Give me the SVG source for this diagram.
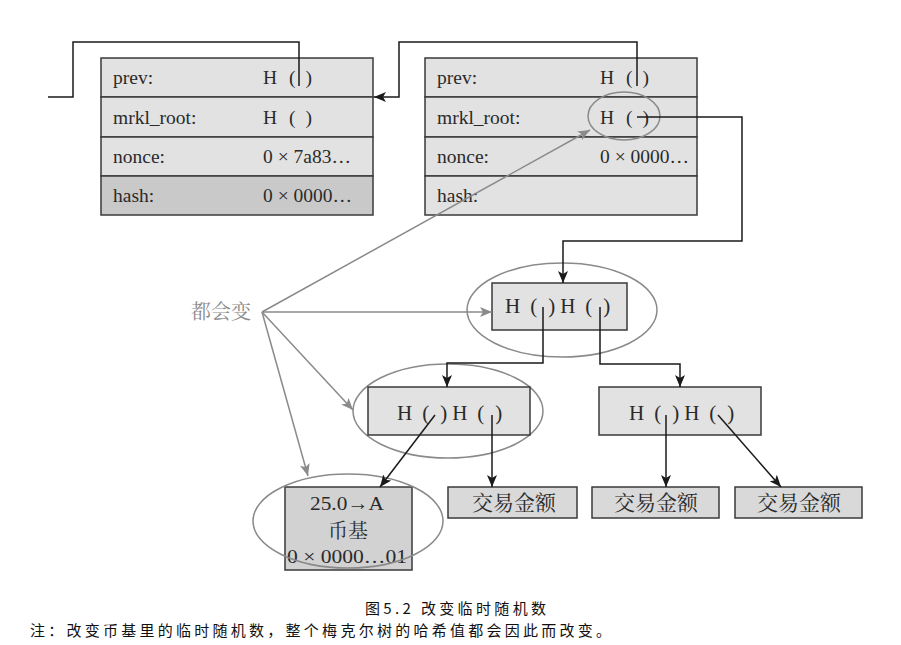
<svg xmlns="http://www.w3.org/2000/svg" width="901" height="645" viewBox="0 0 901 645">
<defs>
<marker id="ab" viewBox="0 0 12 10" refX="12" refY="5" markerWidth="12" markerHeight="10" markerUnits="userSpaceOnUse" orient="auto"><path d="M0,0 L12,5 L0,10 L3,5 z" fill="#1a1a1a"/></marker>
<marker id="ag" viewBox="0 0 12 10" refX="12" refY="5" markerWidth="12" markerHeight="10" markerUnits="userSpaceOnUse" orient="auto"><path d="M0,0 L12,5 L0,10 L3,5 z" fill="#8a8a8a"/></marker>
<style>
.row{fill:#e2e2e2;stroke:#3a3a3a;stroke-width:1.5}
.dark{fill:#c9c9c9}
.box{fill:#e2e2e2;stroke:#3a3a3a;stroke-width:1.5}
.leaf{fill:#d9d9d9;stroke:#3a3a3a;stroke-width:1.5}
.ell{fill:none;stroke:#8a8a8a;stroke-width:1.5}
.t{font-family:"Liberation Serif","Noto Sans CJK SC",serif;font-size:19.5px;fill:#2a2a2a}
.h{font-family:"Liberation Serif",serif;font-size:21px;fill:#2a2a2a}
.cj{font-family:"Noto Serif CJK SC","Noto Sans CJK SC",serif;font-size:20px;fill:#2a2a2a}
.ln{fill:none;stroke:#1a1a1a;stroke-width:1.5}
.lg{fill:none;stroke:#8a8a8a;stroke-width:1.5}
.cap{font-family:"Noto Sans CJK SC",sans-serif;font-size:15px;fill:#111}
</style>
</defs>
<rect width="901" height="645" fill="#ffffff"/>

<g id="block-left">
<rect class="row" x="101" y="58" width="272" height="39"/>
<rect class="row" x="101" y="97" width="272" height="40"/>
<rect class="row" x="101" y="137" width="272" height="39"/>
<rect class="row dark" x="101" y="176" width="272" height="39"/>
<text class="t" x="113" y="84">prev:</text>
<text class="t" x="263" y="84">H<tspan dx="12">(</tspan><tspan dx="10">)</tspan></text>
<text class="t" x="113" y="124">mrkl_root:</text>
<text class="t" x="263" y="124">H<tspan dx="12">(</tspan><tspan dx="10">)</tspan></text>
<text class="t" x="113" y="163">nonce:</text>
<text class="t" x="263" y="163">0 × 7a83…</text>
<text class="t" x="113" y="202">hash:</text>
<text class="t" x="263" y="202">0 × 0000…</text>
</g>

<g id="block-right">
<rect class="row" x="425" y="58" width="272" height="39"/>
<rect class="row" x="425" y="97" width="272" height="40"/>
<rect class="row" x="425" y="137" width="272" height="39"/>
<rect class="row" x="425" y="176" width="272" height="39"/>
<text class="t" x="437" y="84">prev:</text>
<text class="t" x="600" y="84">H<tspan dx="12">(</tspan><tspan dx="10">)</tspan></text>
<text class="t" x="437" y="124">mrkl_root:</text>
<text class="t" x="600" y="124">H<tspan dx="12">(</tspan><tspan dx="10">)</tspan></text>
<text class="t" x="437" y="163">nonce:</text>
<text class="t" x="600" y="163">0 × 0000…</text>
<text class="t" x="437" y="202">hash:</text>
<ellipse class="ell" cx="624" cy="116" rx="36" ry="24"/>
</g>

<g id="node-root">
<ellipse class="ell" cx="562" cy="310" rx="95" ry="47"/>
<rect class="box" x="492" y="283" width="135" height="47"/>
<text class="h" x="505" y="313">H<tspan dx="10">(</tspan><tspan dx="11">)</tspan><tspan dx="5">H</tspan><tspan dx="10">(</tspan><tspan dx="11">)</tspan></text>
</g>

<g id="node-mid-left">
<ellipse class="ell" cx="448" cy="411" rx="95" ry="47"/>
<rect class="box" x="368" y="387" width="162" height="48"/>
<text class="h" x="397" y="420">H<tspan dx="10">(</tspan><tspan dx="11">)</tspan><tspan dx="5">H</tspan><tspan dx="10">(</tspan><tspan dx="11">)</tspan></text>
</g>

<g id="node-mid-right">
<rect class="box" x="599" y="387" width="162" height="48"/>
<text class="h" x="629" y="420">H<tspan dx="10">(</tspan><tspan dx="11">)</tspan><tspan dx="5">H</tspan><tspan dx="10">(</tspan><tspan dx="11">)</tspan></text>
</g>

<g id="node-coinbase">
<rect class="leaf" x="285" y="487" width="127" height="83" style="fill:#d2d2d2"/>
<text class="t" x="310" y="510" textLength="74" lengthAdjust="spacingAndGlyphs">25.0→A</text>
<text class="cj" x="348" y="538" text-anchor="middle">币基</text>
<text class="t" x="287" y="563" textLength="120" lengthAdjust="spacingAndGlyphs">0 × 0000…01</text>
<ellipse class="ell" cx="348" cy="521" rx="95" ry="47"/>
</g>

<g id="leaf-1">
<rect class="leaf" x="448" y="487" width="129" height="31"/>
<text class="cj" x="514" y="510" text-anchor="middle" style="font-size:21px">交易金额</text>
</g>
<g id="leaf-2">
<rect class="leaf" x="592" y="487" width="127" height="31"/>
<text class="cj" x="656" y="510" text-anchor="middle" style="font-size:21px">交易金额</text>
</g>
<g id="leaf-3">
<rect class="leaf" x="735" y="487" width="127" height="31"/>
<text class="cj" x="799" y="510" text-anchor="middle" style="font-size:21px">交易金额</text>
</g>

<g id="label-change">
<text class="cj" x="191" y="319" style="fill:#8a8a8a">都会变</text>
</g>

<g id="connectors">
<path class="ln" d="M48,97 H73 V42 H299 V86"/>
<path class="ln" d="M637,86 V42 H399 V97 H374" marker-end="url(#ab)"/>
<path class="ln" d="M637,117 H742 V241 H563 V283" marker-end="url(#ab)"/>
<path class="ln" d="M543,307 V363 H447 V387" marker-end="url(#ab)"/>
<path class="ln" d="M600,307 V364 H680 V387" marker-end="url(#ab)"/>
<path class="ln" d="M435,415 L380,487" marker-end="url(#ab)"/>
<path class="ln" d="M492,415 V487" marker-end="url(#ab)"/>
<path class="ln" d="M666,415 V487" marker-end="url(#ab)"/>
<path class="ln" d="M718,415 L781,487" marker-end="url(#ab)"/>
<path class="lg" d="M262,312 L590,130" marker-end="url(#ag)"/>
<path class="lg" d="M262,312 L492,312" marker-end="url(#ag)"/>
<path class="lg" d="M262,312 L353,410" marker-end="url(#ag)"/>
<path class="lg" d="M262,312 L308,476" marker-end="url(#ag)"/>
</g>

<g id="caption">
<text class="cap" x="365" y="614" textLength="181" lengthAdjust="spacing">图5.2 改变临时随机数</text>
<text class="cap" x="30" y="636" textLength="581" lengthAdjust="spacing">注：改变币基里的临时随机数，整个梅克尔树的哈希值都会因此而改变。</text>
</g>
</svg>
